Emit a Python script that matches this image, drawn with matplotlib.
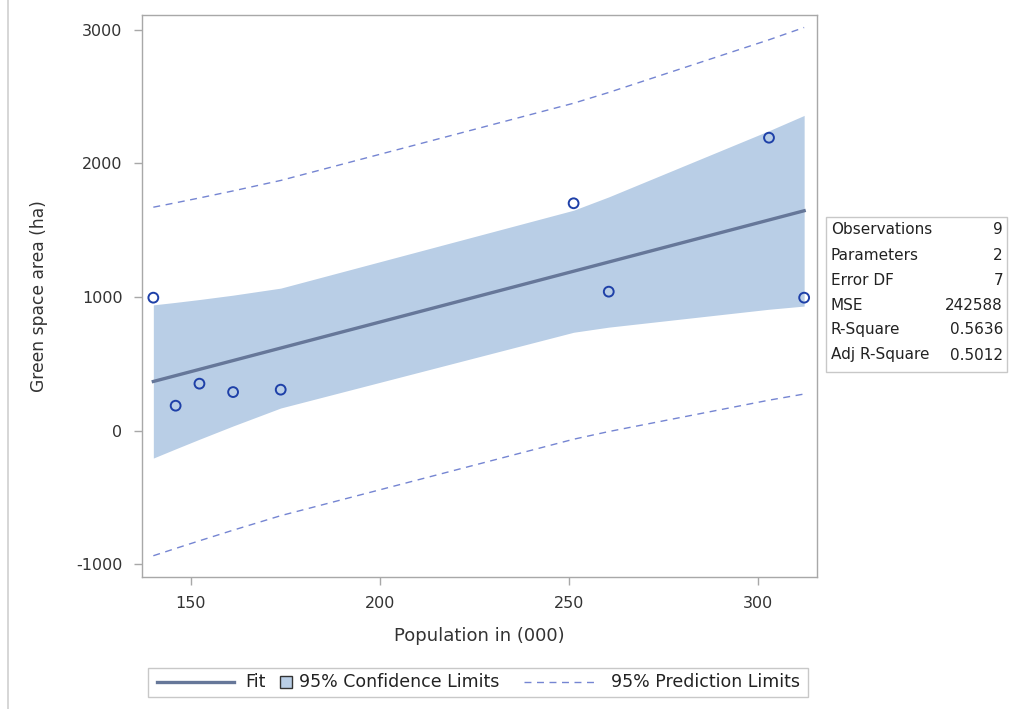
import numpy as np
import matplotlib
matplotlib.use("Agg")
import matplotlib.pyplot as plt
from matplotlib.lines import Line2D
from matplotlib.patches import Rectangle

# ---- data ----
population = [140.1, 146.0, 152.3, 161.2, 173.8, 251.3, 260.6, 303.0, 312.3]
green_area = [995, 186, 351, 288, 306, 1702, 1040, 2193, 995]
t_crit = 2.3646  # t(0.975, df=7)

stat_labels = ["Observations", "Parameters", "Error DF", "MSE", "R-Square", "Adj R-Square"]
stat_values = ["9", "2", "7", "242588", "0.5636", "0.5012"]

xticks = [150, 200, 250, 300]
yticks = [-1000, 0, 1000, 2000, 3000]

# ---- regression ----
x = np.array(population, dtype=float)
y = np.array(green_area, dtype=float)
n = len(x)
xm, ym = x.mean(), y.mean()
sxx = ((x - xm) ** 2).sum()
slope = ((x - xm) * (y - ym)).sum() / sxx
icpt = ym - slope * xm
mse = ((y - (icpt + slope * x)) ** 2).sum() / (n - 2)
order = np.argsort(x)
xs = x[order]
fit = icpt + slope * xs
se_mean = np.sqrt(mse * (1 / n + (xs - xm) ** 2 / sxx))
se_pred = np.sqrt(mse * (1 + 1 / n + (xs - xm) ** 2 / sxx))

plt.rcParams['font.family'] = ['DejaVu Sans']
plt.rcParams['axes.unicode_minus'] = False
W, H = 1012, 709
fig = plt.figure(figsize=(W / 100, H / 100), dpi=100)

def fx(px):
    return px / W

def fy(py):
    return 1 - py / H

ax = fig.add_axes([fx(142), fy(577), fx(817) - fx(142), fy(15) - fy(577)])

band_c = "#B9CEE6"
fit_c = "#667799"
pred_c = "#7585D2"
mark_c = "#1E40A8"
frame_c = "#A8A8A8"
text_c = "#333333"

ax.fill_between(xs, fit - t_crit * se_mean, fit + t_crit * se_mean,
                color=band_c, linewidth=0, zorder=1)
ax.plot(xs, fit, color=fit_c, linewidth=2.4, zorder=3)
ax.plot(xs, fit - t_crit * se_pred, color=pred_c, linewidth=1.0,
        dashes=(5, 4), zorder=2)
ax.plot(xs, fit + t_crit * se_pred, color=pred_c, linewidth=1.0,
        dashes=(5, 4), zorder=2)
ax.scatter(x, y, s=50, facecolors="none", edgecolors=mark_c, linewidths=1.4, zorder=4)

ax.set_xlim(137.1, 315.7)
ax.set_ylim(-1097, 3112)
ax.set_xticks(xticks)
ax.set_yticks(yticks)
for s in ax.spines.values():
    s.set_color(frame_c)
    s.set_linewidth(1.0)
ax.tick_params(direction="out", length=6, width=1, color=frame_c,
               labelcolor=text_c, labelsize=11.5, pad=8)
ax.set_xlabel("Population in (000)", fontsize=13, color=text_c, labelpad=11)
ax.set_ylabel("Green space area (ha)", fontsize=12.3, color=text_c, labelpad=20)

# left border line of the output
fig.add_artist(Line2D([fx(8), fx(8)], [0, 1], color="#D0D0D0", linewidth=1.2,
                      transform=fig.transFigure))

# ---- statistics inset table ----
fig.add_artist(Rectangle((fx(826), fy(372)), fx(1007) - fx(826), fy(217) - fy(372),
                         transform=fig.transFigure, facecolor="white",
                         edgecolor="#C8C8C8", linewidth=1.0))
for i, (lab, val) in enumerate(zip(stat_labels, stat_values)):
    yy = fy(230 + 25 * i)
    fig.text(fx(831), yy, lab, ha="left", va="center", fontsize=11, color="#222222")
    fig.text(fx(1003), yy, val, ha="right", va="center", fontsize=11, color="#222222")

# ---- legend ----
ly = fy(682)
fig.add_artist(Rectangle((fx(148), fy(697)), fx(808) - fx(148), fy(668) - fy(697),
                         transform=fig.transFigure, facecolor="white",
                         edgecolor="#C8C8C8", linewidth=1.0))
fig.add_artist(Line2D([fx(157), fx(234)], [ly, ly], color=fit_c, linewidth=2.4,
                      transform=fig.transFigure))
fig.text(fx(245), ly, "Fit", ha="left", va="center", fontsize=12.5, color="#222222")
fig.add_artist(Rectangle((fx(280), fy(688)), fx(292) - fx(280), fy(676) - fy(688),
                         transform=fig.transFigure, facecolor=band_c,
                         edgecolor="#333333", linewidth=1.0))
fig.text(fx(299), ly, "95% Confidence Limits", ha="left", va="center", fontsize=12.5,
         color="#222222")
fig.add_artist(Line2D([fx(524), fx(596)], [ly, ly], color=pred_c, linewidth=1.0,
                      dashes=(5, 4), transform=fig.transFigure))
fig.text(fx(611), ly, "95% Prediction Limits", ha="left", va="center", fontsize=12.5,
         color="#222222")

fig.savefig("out.png", dpi=100)
